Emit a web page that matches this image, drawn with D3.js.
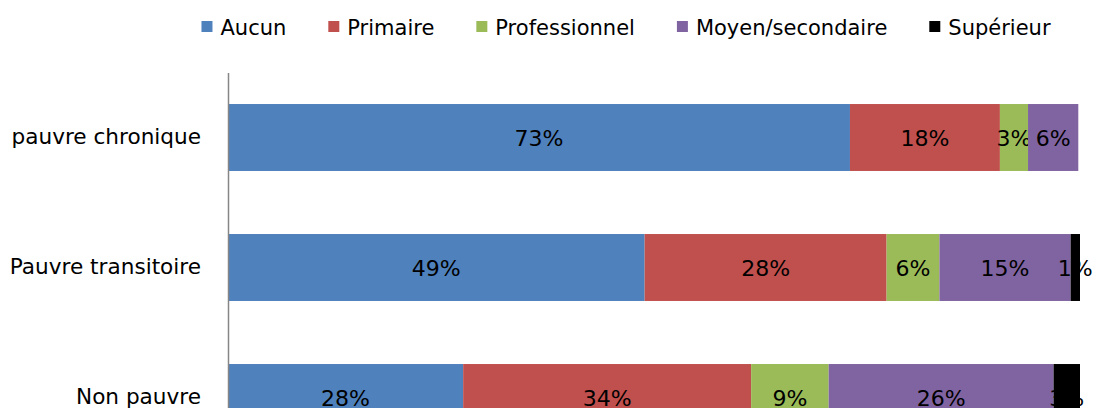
<html lang="fr">
<head>
    <meta charset="UTF-8">
    <title>Niveau d'instruction selon le statut de pauvreté</title>
    <script src="https://d3js.org/d3.v7.min.js"></script>
    <style>
        body { margin: 0; background: #fff; }
        text { font-family: "DejaVu Sans", Verdana, sans-serif; fill: #000; }
    </style>
</head>
<body>
    <svg width="1093" height="408"></svg>
    <script>
        // categories (top to bottom) and series shares in %
        var categories = ["pauvre chronique", "Pauvre transitoire", "Non pauvre"];
        var series = ["Aucun", "Primaire", "Professionnel", "Moyen/secondaire", "Supérieur"];
        var aucun = [73.0, 48.9, 27.6];
        var primaire = [17.6, 28.4, 33.8];
        var professionnel = [3.3, 6.2, 9.1];
        var moyen = [5.9, 15.4, 26.4];
        var superieur = [0.0, 1.1, 3.1];
        var colors = ["#4F81BD", "#C0504D", "#9BBB59", "#8064A2", "#000000"];

        var values = [aucun, primaire, professionnel, moyen, superieur];
        var rows = categories.map(function (c, i) {
            var r = { cat: c };
            series.forEach(function (s, j) { r[s] = values[j][i]; });
            return r;
        });

        var svg = d3.select("svg");

        var x = d3.scaleLinear().domain([0, 100]).range([228, 1080]);
        var y = d3.scaleBand().domain(categories).range([72.5, 462.5])
            .paddingInner(0.485).paddingOuter(0.2425);

        var stacked = d3.stack().keys(series)(rows);

        var layer = svg.selectAll(".layer")
            .data(stacked)
            .enter().append("g")
            .attr("class", "layer")
            .attr("fill", function (d, i) { return colors[i]; });

        layer.selectAll("rect")
            .data(function (d) { return d; })
            .enter().append("rect")
            .attr("x", function (d) { return x(d[0]); })
            .attr("y", function (d) { return y(d.data.cat); })
            .attr("width", function (d) { return x(d[1]) - x(d[0]); })
            .attr("height", y.bandwidth());

        // value labels, centred in each segment
        layer.selectAll("text")
            .data(function (d) { return d.filter(function (v) { return v[1] - v[0] > 0; }); })
            .enter().append("text")
            .attr("x", function (d) { return (x(d[0]) + x(d[1])) / 2; })
            .attr("y", function (d) { return y(d.data.cat) + y.bandwidth() / 2; })
            .attr("dy", "0.4em")
            .attr("text-anchor", "middle")
            .style("font-size", "22px")
            .text(function (d) { return Math.round(d[1] - d[0]) + "%"; });

        // category axis
        var axis = svg.append("g")
            .attr("transform", "translate(228,0)")
            .call(d3.axisLeft(y).tickSize(0).tickPadding(27));
        axis.select(".domain").attr("stroke", "#868686").attr("stroke-width", 1.5);
        axis.selectAll("text")
            .style("font-family", "'DejaVu Sans', Verdana, sans-serif")
            .style("font-size", "21.6px")
            .attr("fill", "#000");

        // legend, laid out from text widths and centred
        var legend = svg.append("g").attr("class", "legend");
        var items = legend.selectAll("g")
            .data(series)
            .enter().append("g");
        items.append("rect")
            .attr("width", 11).attr("height", 11)
            .attr("y", 21)
            .attr("fill", function (d, i) { return colors[i]; });
        items.append("text")
            .attr("x", 19)
            .attr("y", 27)
            .attr("dy", "0.36em")
            .style("font-size", "21px")
            .text(function (d) { return d; });

        var pos = 0, gap = 42, offsets = [];
        items.each(function () {
            offsets.push(pos);
            pos += 19 + this.querySelector("text").getComputedTextLength() + gap;
        });
        var total = pos - gap;
        var start = 626 - total / 2;
        items.attr("transform", function (d, i) { return "translate(" + (start + offsets[i]) + ",0)"; });
    </script>
</body>
</html>
